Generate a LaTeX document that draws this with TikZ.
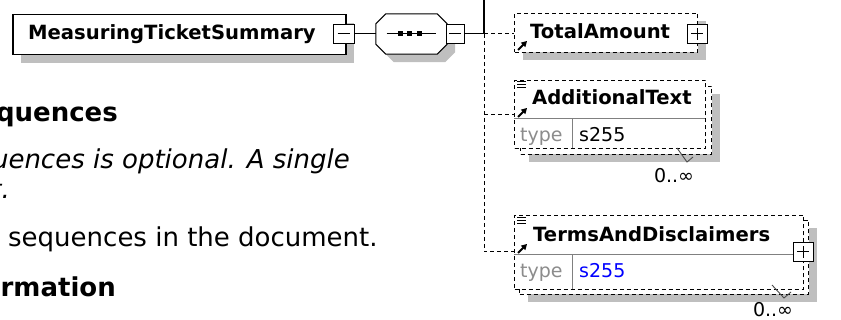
\documentclass[tikz,border=0pt]{standalone}
\usepackage{fontspec}
\setmainfont{DejaVu Sans}
\usetikzlibrary{arrows.meta,positioning,calc,shadows}

\begin{document}
\begin{tikzpicture}[
  x=1pt, y=-1pt,
  font=\fontsize{19.6}{22}\selectfont,
  shadowed/.style={drop shadow={shadow xshift=8pt, shadow yshift=-8pt,
    fill=black!25, opacity=1}},
  elem/.style={draw, fill=white, line width=1pt, inner sep=0pt, anchor=north west},
  opt/.style={elem, dash pattern=on 4pt off 3pt},
  pm/.style={draw, fill=white, line width=1pt, inner sep=0pt, minimum width=20pt,
    minimum height=19pt},
  mbox/.style={pm, path picture={
    \draw ([xshift=-6pt]path picture bounding box.center)
       -- ([xshift=6pt]path picture bounding box.center);}},
  pbox/.style={pm, path picture={
    \draw ([xshift=-6pt]path picture bounding box.center)
       -- ([xshift=6pt]path picture bounding box.center);
    \draw ([yshift=-6pt]path picture bounding box.center)
       -- ([yshift=6pt]path picture bounding box.center);}},
  elemname/.style={font=\fontsize{19.6}{22}\selectfont\bfseries,
    anchor=base west, inner sep=0pt},
  typelbl/.style={font=\fontsize{19}{22}\selectfont, text=black!45,
    anchor=base west, inner sep=0pt},
  typeval/.style={typelbl, text=black},
  mult/.style={font=\fontsize{19}{22}\selectfont, anchor=base, inner sep=0pt},
  doc/.style={font=\fontsize{26}{30}\selectfont, inner sep=0pt},
  conn/.style={line width=1pt},
  dconn/.style={line width=1pt, dash pattern=on 4pt off 3pt},
  divider/.style={black!50, line width=1pt},
  ref/.style={-{Triangle[length=5.5pt,width=6pt]}, line width=1.8pt},
  tick/.style={black!70, line width=0.9pt}
]
  \useasboundingbox (0,0) rectangle (841,320);
  \clip (0,0) rectangle (841,320);

  % root element
  \node[elem, shadowed, line width=1.5pt, minimum width=333pt,
    minimum height=40pt] (root) at (12,14) {};
  \node[elemname] (rootname) at (28,40) {MeasuringTicketSummary};
  \node[mbox, minimum width=21pt] (rootmin) at (343.5,34) {};

  % sequence compositor
  \node[inner sep=0pt, minimum width=71pt, minimum height=40pt] (seq) at (411.5,34) {};
  \draw[fill=white, shadowed, line width=1pt]
    ([xshift=10pt]seq.north west) -- ([xshift=-10pt]seq.north east)
    -- ([yshift=-10pt]seq.north east) -- ([yshift=10pt]seq.south east)
    -- ([xshift=-10pt]seq.south east) -- ([xshift=10pt]seq.south west)
    -- ([yshift=10pt]seq.south west) -- ([yshift=-10pt]seq.north west) -- cycle;
  \draw[line width=1pt] ([xshift=-25pt]seq.center) -- ([xshift=24pt]seq.center);
  \foreach \dx in {-11.5,-2,7.5}
    \fill ([xshift=\dx pt]seq.center) +(-2.5,-2.5) rectangle +(2.5,2.5);
  \node[mbox, minimum width=18pt] (seqmin) at (455,34) {};

  \coordinate (top) at (484,0);
  \coordinate (fork) at (484,34);
  \coordinate (addlin) at (484,115);
  \coordinate (termsin) at (484,252);

  % TotalAmount
  \node[opt, shadowed, minimum width=183pt, minimum height=39pt] (total) at (514,13) {};
  \node[pbox] (totalplus) at (697,34) {};
  \node[elemname] (totalname) at (530,38.5) {TotalAmount};
  \draw[ref] (518,50) -- (527,41);

  % AdditionalText
  \node[opt, shadowed, minimum width=191pt, minimum height=68pt] (addlback) at (520,86) {};
  \node[opt, minimum width=191pt, minimum height=68pt] (addl) at (514,80) {};
  \draw[divider] (514,119) -- (705,119);
  \draw[divider] (572,119) -- (572,148);
  \node[elemname] (addlname) at (532,105) {AdditionalText};
  \node[typelbl] (addltype) at (520,141.5) {type};
  \node[typeval] (addlval) at (579,141.5) {s255};
  \foreach \y in {82,85,88} \draw[line width=1pt] (517,\y) -- (526,\y);
  \draw[ref] (518,117) -- (527,108);
  \draw[tick] (677,148) -- (687,162) -- (693,157);
  \node[mult] (addlmult) at (674,183) {0..∞};

  % TermsAndDisclaimers
  \node[opt, shadowed, minimum width=289pt, minimum height=74pt] (termsback) at (519,220) {};
  \node[opt, minimum width=289pt, minimum height=74pt] (terms) at (514,215) {};
  \draw[divider] (514,255) -- (803,255);
  \draw[divider] (572,255) -- (572,289);
  \node[pbox] (termsplus) at (803,252) {};
  \node[elemname] (termsname) at (533,241.5) {TermsAndDisclaimers};
  \node[typelbl] (termstype) at (520,278) {type};
  \node[typeval, text=blue] (termsval) at (579,278) {s255};
  \foreach \y in {218,221,224} \draw[line width=1pt] (517,\y) -- (526,\y);
  \draw[ref] (518,253) -- (527,244);
  \draw[tick] (772,285) -- (784,298) -- (791,292);
  \node[mult] (termsmult) at (773,317) {0..∞};

  % connectors
  \draw[conn] (rootmin) -- (seq);
  \draw[conn] (seqmin) -- (fork);
  \draw[line width=1.3pt] (top) -- (fork);
  \draw[dconn] (fork) -- (fork -| total.west);
  \draw[dconn] (addlin) -- (addlin -| addl.west);
  \draw[dconn] (fork) -- (termsin) -- (termsin -| terms.west);

  % page text beside the diagram
  \node[doc, font=\fontsize{26}{30}\selectfont\bfseries, anchor=base east]
    (seqhead) at (118,122) {quences};
  \node[doc, font=\fontsize{26}{30}\selectfont\itshape, anchor=base east]
    (seqnote) at (350,169) {uences is optional. A single};
  \node[doc, font=\fontsize{26}{30}\selectfont\itshape, anchor=base east]
    (seqnote2) at (10,199) {t.};
  \node[doc, anchor=base west] (seqcount) at (8,247) {sequences in the document.};
  \node[doc, font=\fontsize{26}{30}\selectfont\bfseries, anchor=base east]
    (infohead) at (116,297) {rmation};
\end{tikzpicture}
\end{document}
